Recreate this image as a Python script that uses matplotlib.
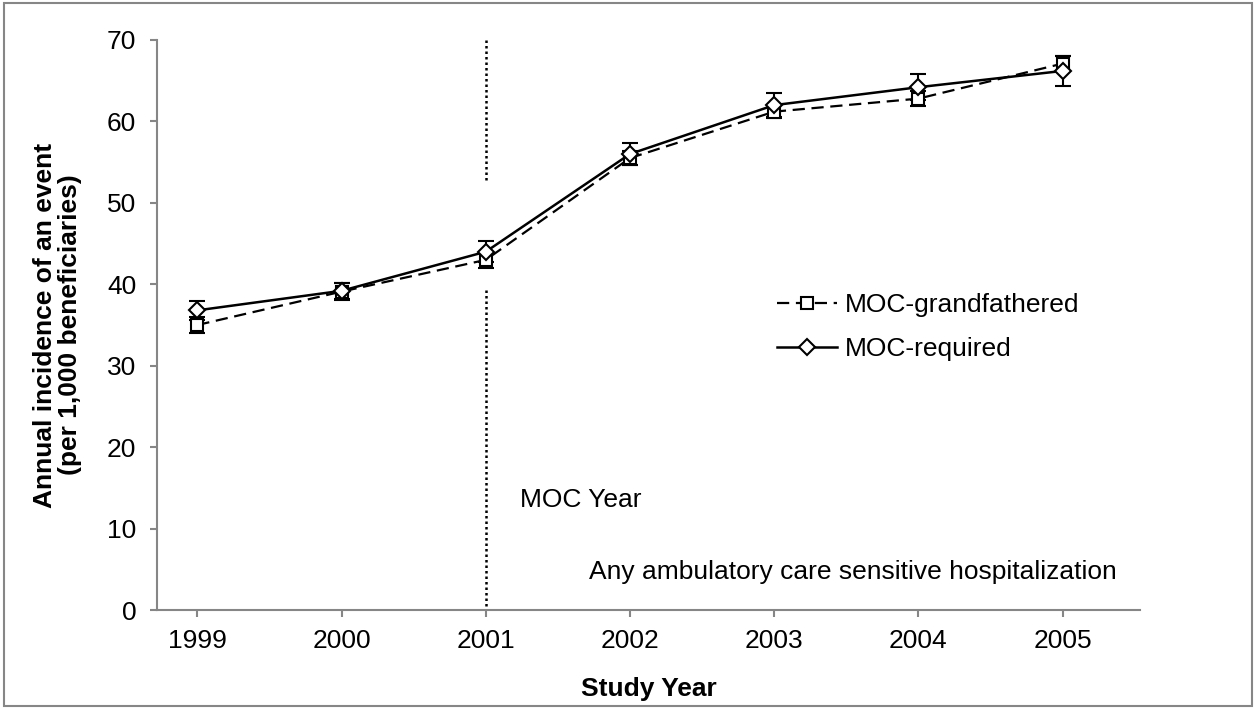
import matplotlib
matplotlib.use('Agg')
import matplotlib.pyplot as plt
from matplotlib.patches import Rectangle

plt.rcParams['font.family'] = ['Liberation Sans', 'DejaVu Sans']

# annual incidence per 1,000 beneficiaries, with error bar half-widths
years = [1999, 2000, 2001, 2002, 2003, 2004, 2005]
grandfathered = [35.0, 39.1, 43.0, 55.5, 61.2, 62.8, 67.1]
grandfathered_err = [1.0, 1.0, 1.0, 0.9, 0.8, 0.9, 0.9]
required = [36.8, 39.2, 44.0, 56.0, 62.0, 64.2, 66.2]
required_err = [1.2, 1.0, 1.3, 1.4, 1.5, 1.6, 1.8]
yticks = [0, 10, 20, 30, 40, 50, 60, 70]

axis_gray = '#868686'
fs = 19

fig = plt.figure(figsize=(12.56, 7.09), dpi=100)
ax = fig.add_axes([0.125, 0.1396, 0.783, 0.804])

# error bars first, lines with markers on top
ax.errorbar(years, grandfathered, yerr=grandfathered_err, fmt='none',
            ecolor='black', elinewidth=1.5, capsize=6, capthick=1.5, zorder=3)
ax.errorbar(years, required, yerr=required_err, fmt='none',
            ecolor='black', elinewidth=1.5, capsize=6, capthick=1.5, zorder=3)
l1, = ax.plot(years, grandfathered, color='black', lw=1.6, dashes=(5.5, 3),
              marker='s', ms=9, mfc='white', mec='black', mew=1.5,
              label='MOC-grandfathered', zorder=4)
l2, = ax.plot(years, required, color='black', lw=1.8,
              marker='D', ms=8, mfc='white', mec='black', mew=1.5,
              label='MOC-required', zorder=5)

# MOC year marker
ax.plot([2001, 2001], [70, 52.5], color='black', lw=1.8, ls=(0, (1, 1.2)), zorder=2)
ax.plot([2001, 2001], [39.3, 0.2], color='black', lw=1.8, ls=(0, (1, 1.2)), zorder=2)

ax.set_xlim(1998.72, 2005.54)
ax.set_ylim(0, 70)
ax.set_xticks(years)
ax.set_yticks(yticks)

for side in ['top', 'right']:
    ax.spines[side].set_visible(False)
for side in ['left', 'bottom']:
    ax.spines[side].set_color(axis_gray)
    ax.spines[side].set_linewidth(1.5)
ax.tick_params(axis='both', colors=axis_gray, labelcolor='black',
               labelsize=fs, length=5, width=1.5, direction='out')
ax.tick_params(axis='x', pad=9)
ax.tick_params(axis='y', pad=10)

ax.set_xlabel('Study Year', fontsize=fs, fontweight='bold', labelpad=17)
ax.set_ylabel('Annual incidence of an event\n(per 1,000 beneficiaries)',
              fontsize=fs, fontweight='bold', labelpad=18, linespacing=1.05)

ax.text(2001.24, 13.5, 'MOC Year', fontsize=fs, ha='left', va='center')
ax.text(2005.376, 4.67, 'Any ambulatory care sensitive hospitalization',
        fontsize=fs, ha='right', va='center')

ax.legend(handles=[l1, l2], loc='upper left', bbox_to_anchor=(0.619, 0.587),
          bbox_transform=fig.transFigure, frameon=False, fontsize=fs,
          handlelength=2.25, handletextpad=0.3, labelspacing=0.78,
          borderpad=0, borderaxespad=0)

# outer chart border
fig.patches.append(Rectangle((0.003, 0.004), 0.994, 0.992, transform=fig.transFigure,
                             fill=False, edgecolor=axis_gray, lw=1.5))

fig.savefig('out.png', dpi=100)
